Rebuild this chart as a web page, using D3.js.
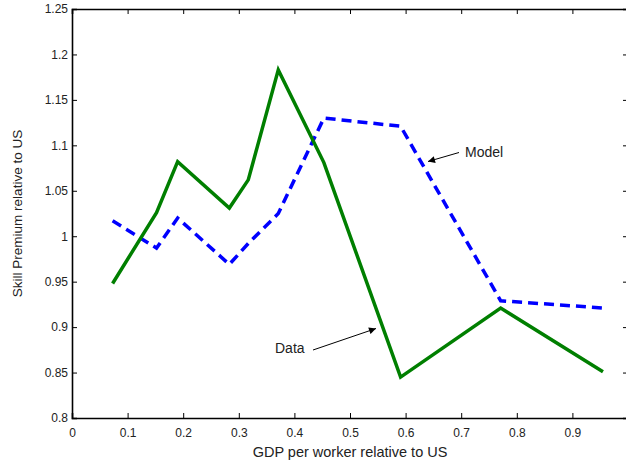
<!DOCTYPE html>
<html>
<head>
<meta charset="utf-8">
<script src="https://cdn.jsdelivr.net/npm/d3@7"></script>
<style>
  body { margin: 0; background: #fff; }
  svg { display: block; font-family: "Liberation Sans", Arial, sans-serif; }
</style>
</head>
<body>
<svg id="chart" width="626" height="464"></svg>
<script>
// GDP per worker relative to US (same x for both series)
const gdp = [0.073, 0.152, 0.19, 0.283, 0.317, 0.371, 0.453, 0.591, 0.771, 0.955];
const dataSeries = [0.948, 1.026, 1.082, 1.031, 1.062, 1.183, 1.081, 0.845, 0.921, 0.851];
const modelSeries = [1.017, 0.987, 1.020, 0.969, 0.992, 1.025, 1.130, 1.121, 0.929, 0.921];
const xTicks = [0, 0.1, 0.2, 0.3, 0.4, 0.5, 0.6, 0.7, 0.8, 0.9];
const yTicks = [0.8, 0.85, 0.9, 0.95, 1, 1.05, 1.1, 1.15, 1.2, 1.25];

const margin = { left: 72, top: 9, right: 628, bottom: 418 };
const svg = d3.select('#chart');

const x = d3.scaleLinear().domain([0, 1]).range([margin.left, margin.right]);
const y = d3.scaleLinear().domain([0.8, 1.25]).range([margin.bottom, margin.top]);

const fmt = d => String(+d.toFixed(2));

// axes: matlab style box with inward ticks
const axBottom = svg.append('g')
  .attr('transform', `translate(0,${margin.bottom})`)
  .call(d3.axisBottom(x).tickValues(xTicks).tickSize(-5).tickPadding(10).tickFormat(fmt));
const axTop = svg.append('g')
  .attr('transform', `translate(0,${margin.top})`)
  .call(d3.axisTop(x).tickValues(xTicks).tickSize(-5).tickFormat(''));
const axLeft = svg.append('g')
  .attr('transform', `translate(${margin.left},0)`)
  .call(d3.axisLeft(y).tickValues(yTicks).tickSize(-5).tickPadding(4).tickFormat(fmt));
const axRight = svg.append('g')
  .attr('transform', `translate(${margin.right},0)`)
  .call(d3.axisRight(y).tickValues(yTicks).tickSize(-5).tickFormat(''));

[axBottom, axTop, axLeft, axRight].forEach(g => {
  g.select('.domain').attr('stroke', '#000').attr('stroke-width', 1.6);
  g.selectAll('.tick line').attr('stroke', '#000').attr('stroke-width', 1);
  g.selectAll('.tick text').attr('fill', '#222').style('font-size', '12px')
    .style('font-family', '"Liberation Sans", Arial, sans-serif');
});

const line = d3.line().x((d, i) => x(gdp[i])).y(d => y(d));

svg.append('path')
  .datum(modelSeries)
  .attr('d', line)
  .attr('fill', 'none')
  .attr('stroke', '#0000ff')
  .attr('stroke-width', 3.5)
  .attr('stroke-dasharray', '10,6');

svg.append('path')
  .datum(dataSeries)
  .attr('d', line)
  .attr('fill', 'none')
  .attr('stroke', '#007f00')
  .attr('stroke-width', 3.5)
  .attr('stroke-linejoin', 'miter');

// annotations with arrows
const defs = svg.append('defs');
defs.append('marker')
  .attr('id', 'arrow')
  .attr('viewBox', '0 0 10 10')
  .attr('refX', 10).attr('refY', 5)
  .attr('markerWidth', 10).attr('markerHeight', 7)
  .attr('markerUnits', 'userSpaceOnUse')
  .attr('orient', 'auto')
  .append('path').attr('d', 'M0,0L10,5L0,10z').attr('fill', '#000');

const notes = [
  { text: 'Model', tx: 465, ty: 157, x1: 459, y1: 152.5, x2: 428, y2: 161.5 },
  { text: 'Data', tx: 275, ty: 353, x1: 313, y1: 350, x2: 376, y2: 328.5 }
];
notes.forEach(n => {
  svg.append('line')
    .attr('x1', n.x1).attr('y1', n.y1).attr('x2', n.x2).attr('y2', n.y2)
    .attr('stroke', '#000').attr('stroke-width', 1)
    .attr('marker-end', 'url(#arrow)');
  svg.append('text')
    .attr('x', n.tx).attr('y', n.ty)
    .attr('fill', '#222')
    .style('font-size', '14px')
    .text(n.text);
});

// axis labels
svg.append('text')
  .attr('x', (margin.left + margin.right) / 2).attr('y', 457)
  .attr('text-anchor', 'middle')
  .attr('fill', '#222')
  .style('font-size', '14.5px')
  .text('GDP per worker relative to US');

svg.append('text')
  .attr('transform', `translate(22,${(margin.top + margin.bottom) / 2}) rotate(-90)`)
  .attr('text-anchor', 'middle')
  .attr('fill', '#222')
  .style('font-size', '13.5px')
  .text('Skill Premium relative to US');
</script>
</body>
</html>
